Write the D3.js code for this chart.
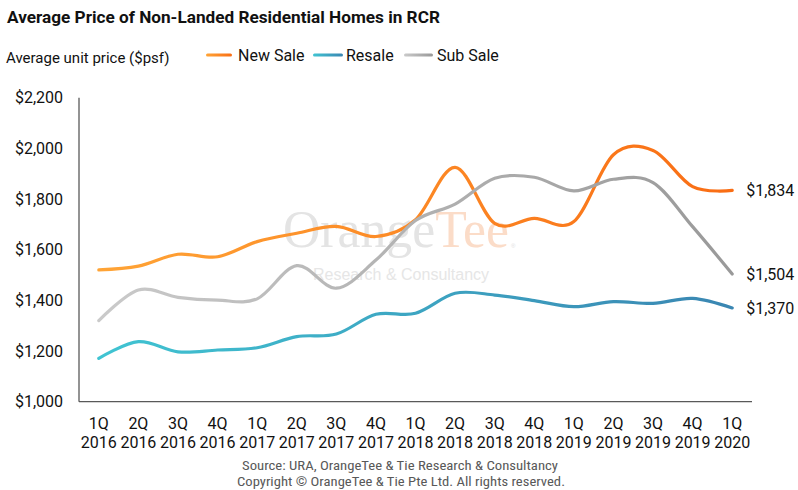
<!DOCTYPE html>
<html>
<head>
<meta charset="utf-8">
<script src="https://cdn.jsdelivr.net/npm/d3@7"></script>
<style>
  body { margin: 0; background: #fff; }
  svg { display: block; font-family: Roboto, "Noto Sans", sans-serif; }
</style>
</head>
<body>
<svg id="chart" width="798" height="490"></svg>
<script>
const quarters = ["1Q","2Q","3Q","4Q","1Q","2Q","3Q","4Q","1Q","2Q","3Q","4Q","1Q","2Q","3Q","4Q","1Q"];
const years = ["2016","2016","2016","2016","2017","2017","2017","2017","2018","2018","2018","2018","2019","2019","2019","2019","2020"];
const newSale = [1520,1535,1582,1572,1632,1665,1692,1652,1718,1925,1704,1724,1711,1975,1992,1849,1834];
const resale  = [1171,1237,1197,1204,1213,1257,1267,1345,1349,1428,1421,1399,1375,1395,1388,1408,1370];
const subSale = [1320,1441,1412,1401,1406,1537,1448,1559,1715,1780,1882,1886,1832,1878,1865,1691,1504];
const yTicks = [1000,1200,1400,1600,1800,2000,2200];
const seriesNames = ["New Sale","Resale","Sub Sale"];

const svg = d3.select("#chart");
const L = 79, R = 752, T = 97.7, B = 401.7;
const cats = quarters.map((q,i) => q + " " + years[i]);
const x = d3.scaleBand().domain(cats).range([L, R]);
const xc = c => x(c) + x.bandwidth()/2;
const y = d3.scaleLinear().domain([1000, 2200]).range([B, T]);

const series = [
  {name: seriesNames[0], values: newSale, c0: "#FFA436", c1: "#F96D14"},
  {name: seriesNames[1], values: resale,  c0: "#40C4D2", c1: "#3A86B2"},
  {name: seriesNames[2], values: subSale, c0: "#CACACA", c1: "#999999"}
];

const defs = svg.append("defs");
series.forEach((s,i) => {
  const g = defs.append("linearGradient").attr("id","g"+i)
    .attr("gradientUnits","userSpaceOnUse")
    .attr("x1", xc(cats[0])).attr("x2", xc(cats[cats.length-1])).attr("y1",0).attr("y2",0);
  g.append("stop").attr("offset","0%").attr("stop-color", s.c0);
  g.append("stop").attr("offset","100%").attr("stop-color", s.c1);
  const gl = defs.append("linearGradient").attr("id","gl"+i);
  gl.append("stop").attr("offset","0%").attr("stop-color", s.c0);
  gl.append("stop").attr("offset","100%").attr("stop-color", s.c1);
});

// Title
svg.append("text").attr("x", 7).attr("y", 23)
  .attr("font-size", 17.2).attr("font-weight", "bold").attr("fill", "#111")
  .text("Average Price of Non-Landed Residential Homes in RCR");

svg.append("text").attr("x", 6).attr("y", 63)
  .attr("font-size", 15).attr("fill", "#111")
  .text("Average unit price ($psf)");

// Legend
const legendPos = [[206,232,238],[313,343,346],[404,433,437]];
series.forEach((s,i) => {
  const p = legendPos[i];
  svg.append("rect").attr("x", p[0]).attr("y", 53.5).attr("width", p[1]-p[0]).attr("height", 3)
    .attr("rx", 1.5).attr("fill", "url(#gl"+i+")");
  svg.append("text").attr("x", p[2]).attr("y", 61).attr("font-size", 16).attr("fill", "#111").text(s.name);
});

// Watermark
const wm = svg.append("text").attr("x", 283).attr("y", 247)
  .style("font-family", "'Liberation Serif', 'DejaVu Serif', serif").attr("font-size", 52)
  .attr("textLength", 226).attr("lengthAdjust", "spacingAndGlyphs");
wm.append("tspan").attr("fill", "#e4e4e4").text("Orange");
wm.append("tspan").attr("fill", "#fbdcc8").text("Tee");
svg.append("text").attr("x", 511).attr("y", 248)
  .style("font-family", "'Liberation Sans', Arial, sans-serif").attr("font-size", 6).attr("fill", "#e0e0e0").text("®");
svg.append("text").attr("x", 313).attr("y", 280)
  .style("font-family", "'Liberation Sans', Arial, sans-serif").attr("font-size", 16)
  .attr("fill", "#e6e6e6").text("Research & Consultancy");

// Axes
const yAxis = d3.axisLeft(y).tickValues(yTicks).tickSize(0).tickPadding(16)
  .tickFormat(d => "$" + d3.format(",")(d));
const gy = svg.append("g").attr("transform", `translate(${L},0)`).call(yAxis);
gy.select(".domain").remove();
gy.selectAll("text").attr("font-size", 16).attr("fill", "#111")
  .style("font-family", "Roboto, sans-serif");

svg.append("line").attr("x1", L).attr("x2", L).attr("y1", T).attr("y2", B)
  .attr("stroke", "#595959").attr("stroke-width", 1.3);
svg.append("line").attr("x1", L).attr("x2", R).attr("y1", B).attr("y2", B)
  .attr("stroke", "#595959").attr("stroke-width", 1.3);

const xAxis = d3.axisBottom(x).tickSize(0).tickPadding(0).tickFormat(() => "");
const gx = svg.append("g").attr("transform", `translate(0,${B})`).call(xAxis);
gx.select(".domain").remove();
gx.selectAll(".tick text").remove();
gx.selectAll(".tick").each(function(d, i) {
  const t = d3.select(this).append("text").attr("text-anchor", "middle")
    .attr("font-size", 16).attr("fill", "#111").style("font-family", "Roboto, sans-serif");
  t.append("tspan").attr("x", 0).attr("y", 27.5).text(quarters[i]);
  t.append("tspan").attr("x", 0).attr("y", 46.5).text(years[i]);
});

// Lines
const line = d3.line().x((d,i) => xc(cats[i])).y(d => y(d)).curve(d3.curveCardinal.tension(0));
series.forEach((s,i) => {
  svg.append("path").datum(s.values).attr("d", line)
    .attr("fill", "none").attr("stroke", "url(#g"+i+")").attr("stroke-width", 3.2)
    .attr("stroke-linecap", "round").attr("stroke-linejoin", "round");
});

// End labels
series.forEach(s => {
  const v = s.values[s.values.length-1];
  svg.append("text").attr("x", xc(cats[cats.length-1]) + 14).attr("y", y(v))
    .attr("dy", "0.36em").attr("font-size", 16).attr("fill", "#111")
    .text("$" + d3.format(",")(v));
});

// Source
svg.append("text").attr("x", 400).attr("y", 470).attr("text-anchor", "middle")
  .style("font-family", "'Liberation Sans Narrow', 'Roboto Condensed', 'Roboto', sans-serif").attr("font-size", 12.5)
  .attr("fill", "#595959").attr("textLength", 316).attr("lengthAdjust", "spacingAndGlyphs")
  .text("Source: URA, OrangeTee  & Tie Research & Consultancy");
svg.append("text").attr("x", 401).attr("y", 486).attr("text-anchor", "middle")
  .style("font-family", "'Liberation Sans Narrow', 'Roboto Condensed', 'Roboto', sans-serif").attr("font-size", 12.5)
  .attr("fill", "#595959").attr("textLength", 328).attr("lengthAdjust", "spacingAndGlyphs")
  .text("Copyright  © OrangeTee & Tie Pte Ltd. All rights reserved.");
</script>
</body>
</html>
